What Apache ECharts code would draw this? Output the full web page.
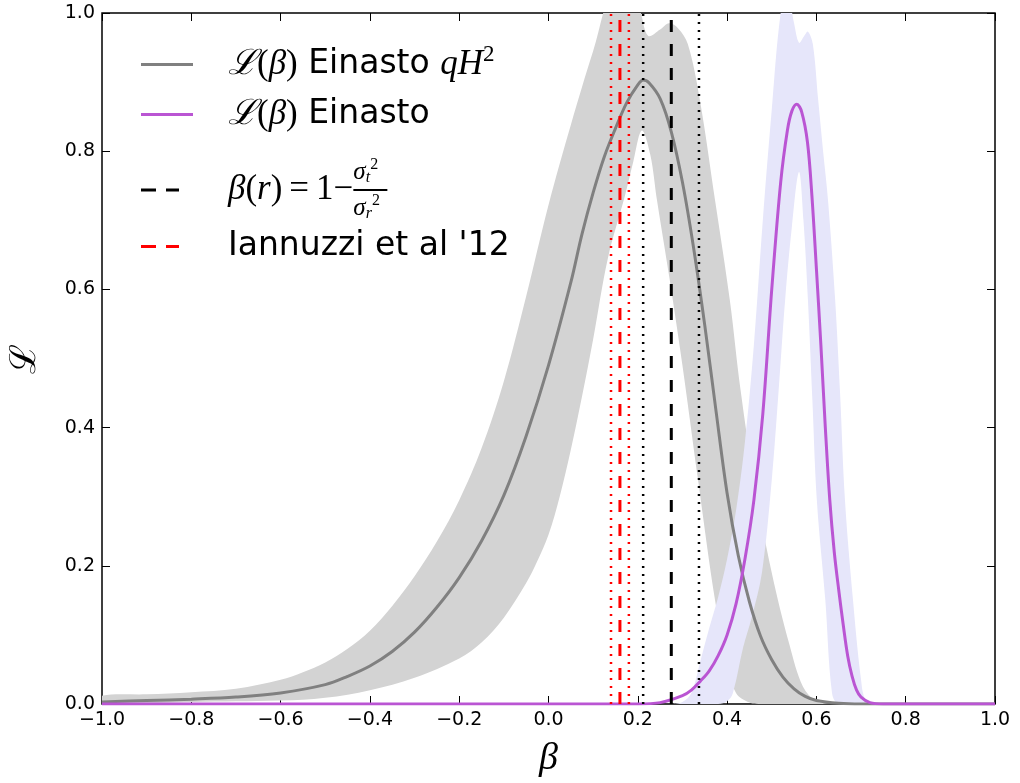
<!DOCTYPE html>
<html>
<head>
<meta charset="utf-8">
<script src="https://cdn.jsdelivr.net/npm/echarts@6/dist/echarts.min.js"></script>
<style>
  html, body { margin: 0; padding: 0; background: #fff; }
  #chart { width: 1020px; height: 783px; }
</style>
</head>
<body>
<div id="chart"></div>
<script>
// Likelihood of the anisotropy parameter beta, Einasto qH^2 fit (gray)
const grayBeta = [-1.0, -0.9, -0.8, -0.7, -0.6, -0.5, -0.45, -0.4, -0.35, -0.3, -0.25, -0.2, -0.15, -0.1, -0.05,
  0.0, 0.05, 0.075, 0.1, 0.125, 0.15, 0.175, 0.2, 0.212, 0.225, 0.25, 0.275, 0.3, 0.325, 0.35, 0.375, 0.4,
  0.425, 0.45, 0.475, 0.5, 0.525, 0.55, 0.575, 0.6, 0.65, 0.7, 0.8, 0.9, 1.0];
const grayLike = [0.003, 0.005, 0.007, 0.010, 0.016, 0.028, 0.040, 0.055, 0.076, 0.104, 0.140, 0.183, 0.236, 0.302, 0.388,
  0.490, 0.610, 0.680, 0.740, 0.792, 0.833, 0.870, 0.896, 0.903, 0.899, 0.876, 0.828, 0.755, 0.660, 0.548, 0.425, 0.305,
  0.215, 0.148, 0.098, 0.064, 0.039, 0.022, 0.011, 0.005, 0.001, 0, 0, 0, 0];

// Upper and lower edges of the gray uncertainty band
const grayHighBeta = [-1.0, -0.9, -0.8, -0.7, -0.6, -0.55, -0.5, -0.45, -0.4, -0.35, -0.3, -0.25, -0.2, -0.15, -0.1, -0.05,
  0.0, 0.05, 0.1, 0.15, 0.2, 0.223, 0.25, 0.27, 0.29, 0.312, 0.339, 0.373, 0.406, 0.43, 0.46, 0.5, 0.54, 0.57, 0.6, 0.63];
const grayHigh = [0.012, 0.014, 0.017, 0.022, 0.035, 0.046, 0.060, 0.080, 0.106, 0.142, 0.185, 0.235, 0.295, 0.370, 0.467, 0.590,
  0.722, 0.838, 0.945, 1.040, 1.010, 0.967, 0.976, 0.985, 0.978, 0.955, 0.874, 0.729, 0.585, 0.455, 0.325, 0.190, 0.085, 0.025, 0.004, 0];
const grayLowBeta = [-1.0, -0.8, -0.6, -0.5, -0.4, -0.3, -0.2, -0.15, -0.1, -0.05, -0.025, 0.0, 0.025, 0.05, 0.075, 0.1,
  0.133, 0.171, 0.19, 0.209, 0.228, 0.243, 0.27, 0.3, 0.335, 0.373, 0.4, 0.42, 0.45, 0.47];
const grayLow = [0.001, 0.003, 0.005, 0.009, 0.020, 0.038, 0.066, 0.089, 0.125, 0.175, 0.207, 0.245, 0.300, 0.368, 0.445, 0.528,
  0.645, 0.735, 0.785, 0.830, 0.795, 0.729, 0.620, 0.490, 0.324, 0.150, 0.060, 0.016, 0.002, 0];

// Likelihood of beta, plain Einasto fit (purple)
const purpleBeta = [-1.0, 0.2, 0.25, 0.3, 0.32, 0.34, 0.36, 0.38, 0.4, 0.42, 0.44, 0.46, 0.48, 0.5, 0.52, 0.535,
  0.545, 0.556, 0.567, 0.58, 0.59, 0.6, 0.61, 0.62, 0.63, 0.64, 0.65, 0.66, 0.67, 0.68, 0.69, 0.7, 0.72, 0.75, 0.8, 1.0];
const purpleLike = [0, 0, 0.002, 0.012, 0.020, 0.033, 0.048, 0.070, 0.100, 0.145, 0.210, 0.295, 0.420, 0.600, 0.755, 0.830,
  0.858, 0.868, 0.857, 0.813, 0.735, 0.630, 0.520, 0.400, 0.295, 0.220, 0.165, 0.115, 0.070, 0.040, 0.020, 0.010, 0.002, 0, 0, 0];

// Upper and lower edges of the lavender uncertainty band
const purpleHighBeta = [0.28, 0.3, 0.32, 0.34, 0.36, 0.38, 0.4, 0.42, 0.44, 0.46, 0.48, 0.5, 0.52, 0.535, 0.55,
  0.561, 0.572, 0.581, 0.592, 0.604, 0.615, 0.626, 0.642, 0.653, 0.664, 0.682, 0.7, 0.71, 0.73];
const purpleHigh = [0, 0.003, 0.016, 0.062, 0.110, 0.155, 0.210, 0.280, 0.380, 0.520, 0.700, 0.860, 1.000, 1.030, 0.985,
  0.957, 0.966, 0.973, 0.955, 0.874, 0.800, 0.729, 0.585, 0.450, 0.295, 0.150, 0.035, 0.006, 0];
const purpleLowBeta = [0.38, 0.4, 0.413, 0.436, 0.455, 0.478, 0.5, 0.515, 0.53, 0.545, 0.561, 0.571, 0.581, 0.591,
  0.601, 0.62, 0.635, 0.65];
const purpleLow = [0, 0.004, 0.016, 0.082, 0.125, 0.190, 0.324, 0.450, 0.585, 0.690, 0.770, 0.700, 0.585, 0.440,
  0.295, 0.150, 0.016, 0];

// Reference values of beta with their ranges
const iannuzziBeta = 0.16;
const iannuzziRange = [0.14, 0.18];
const profileBeta = 0.275;
const profileRange = [0.212, 0.337];

const xTickLabels = ['\u22121.0', '\u22120.8', '\u22120.6', '\u22120.4', '\u22120.2', '0.0', '0.2', '0.4', '0.6', '0.8', '1.0'];
const yTickLabels = ['0.0', '0.2', '0.4', '0.6', '0.8', '1.0'];

const mathFont = "'Liberation Serif', 'DejaVu Serif', serif";
const sansFont = "'DejaVu Sans', sans-serif";

const pairs = (xs, ys) => xs.map((x, i) => [x, ys[i]]);
const vline = b => [[b, 0], [b, 1]];

const measure = document.createElement('canvas').getContext('2d');
const textWidth = (s, font) => { measure.font = font; return measure.measureText(s).width; };

const SMOOTH = 0.35;

// Filled region between an upper and a lower curve, placed through the cartesian axes
function bandSeries(name, hiX, hiY, loX, loY, color) {
  return {
    name: name, type: 'custom', coordinateSystem: 'cartesian2d', silent: true, clip: true,
    data: pairs(hiX, hiY), encode: { x: 0, y: 1 },
    renderItem: (params, api) => {
      if (params.dataIndex !== 0) return null;
      const pts = pairs(hiX, hiY).concat(pairs(loX, loY).reverse()).map(p => api.coord(p));
      const cs = params.coordSys;
      return {
        type: 'polygon', shape: { points: pts, smooth: 0.35 }, style: { fill: color },
        clipPath: { type: 'rect', shape: { x: cs.x, y: cs.y, width: cs.width, height: cs.height } }
      };
    }
  };
}

function vlineSeries(name, b, color, width, dash) {
  return { name: name, type: 'line', data: vline(b), symbol: 'none', silent: true,
    itemStyle: { color: color }, lineStyle: { color: color, width: width, type: dash, cap: 'butt' } };
}

const DASHED = [12, 12];
const DOTTED = [2, 6];

const mathSize = 35;
const italicMath = 'italic ' + mathSize + 'px ' + mathFont;
const uprightMath = mathSize + 'px ' + mathFont;
const lhsWidth = textWidth('\u03b2', italicMath) + textWidth('(', uprightMath) +
  textWidth('r', italicMath) + textWidth(')\u2009=\u20091\u2212', uprightMath);

const rich = {
  m: { fontFamily: mathFont, fontStyle: 'italic', fontSize: mathSize, lineHeight: 40, color: '#000' },
  p: { fontFamily: mathFont, fontSize: mathSize, lineHeight: 40, color: '#000' },
  s: { fontFamily: sansFont, fontSize: 33, lineHeight: 40, color: '#000' },
  sup: { fontFamily: mathFont, fontSize: 23, lineHeight: 40, padding: [0, 0, 20, 0], color: '#000' },
  // fraction pieces
  fm: { fontFamily: mathFont, fontStyle: 'italic', fontSize: mathSize, lineHeight: 12, color: '#000' },
  fp: { fontFamily: mathFont, fontSize: mathSize, lineHeight: 12, color: '#000' },
  bar: { width: 34, height: 2, lineHeight: 12, backgroundColor: '#000', fontSize: 2 },
  pad: { width: lhsWidth, lineHeight: 24, fontSize: 10 },
  num: { fontFamily: mathFont, fontStyle: 'italic', fontSize: 25, lineHeight: 24, color: '#000' },
  nsup: { fontFamily: mathFont, fontSize: 16, lineHeight: 24, padding: [0, 0, 14, 0], color: '#000' },
  nsub: { fontFamily: mathFont, fontStyle: 'italic', fontSize: 16, lineHeight: 24, padding: [12, 0, 0, 0], color: '#000' }
};

const legendLabels = {
  'Einasto qH2': '{m|\u2112}{p|(}{m|\u03b2}{p|)}{s| Einasto }{m|qH}{sup|2}',
  'Einasto': '{m|\u2112}{p|(}{m|\u03b2}{p|)}{s| Einasto}',
  'beta profile': '{pad| }{num|\u03c3}{nsub|t}{nsup|2}\n' +
    '{fm|\u03b2}{fp|(}{fm|r}{fp|)\u2009=\u20091\u2212}{bar| }\n' +
    '{pad| }{num|\u03c3}{nsub|r}{nsup|2}',
  'Iannuzzi': '{s|Iannuzzi et al \'12}'
};

const SOLID_ICON = 'path://M0,0H52V3H0Z';
const DASH_ICON = 'path://M0,0H15V3H0Z M25,0H38V3H25Z';

function legendFor(name, top, dashed) {
  const w = dashed ? 38 : 52;
  return {
    data: [name], orient: 'vertical', left: 141, top: top, padding: 0,
    itemWidth: w, itemHeight: 3, selectedMode: false, symbolKeepAspect: false,
    icon: dashed ? DASH_ICON : SOLID_ICON,
    formatter: n => legendLabels[n],
    textStyle: { rich: rich, padding: [0, 0, 0, 228 - 141 - w - 5] }
  };
}

const chart = echarts.init(document.getElementById('chart'), null, { renderer: 'canvas' });

const axisText = { fontFamily: sansFont, fontSize: 19, color: '#000' };
const tickStyle = { inside: true, length: 8, lineStyle: { color: '#000', width: 1 } };
const hiddenLine = { show: false, onZero: false };

chart.setOption({
  animation: false,
  backgroundColor: '#fff',
  grid: { left: 102, right: 25, top: 13, bottom: 79, show: true, borderColor: '#000', borderWidth: 1.5,
    backgroundColor: 'transparent' },
  legend: [
    legendFor('Einasto qH2', 43, false),
    legendFor('Einasto', 97, false),
    legendFor('beta profile', 157, true),
    legendFor('Iannuzzi', 230, true)
  ],
  xAxis: [
    { type: 'value', min: -1, max: 1, interval: 0.2, position: 'bottom',
      name: '\u03b2', nameLocation: 'middle', nameGap: 36,
      nameTextStyle: { fontFamily: mathFont, fontStyle: 'italic', fontSize: 38, color: '#000' },
      axisLine: hiddenLine, splitLine: { show: false }, axisTick: tickStyle,
      axisLabel: Object.assign({ margin: 7, formatter: (v, i) => xTickLabels[i] }, axisText) },
    { type: 'value', min: -1, max: 1, interval: 0.2, position: 'top',
      axisLine: hiddenLine, splitLine: { show: false }, axisLabel: { show: false }, axisTick: tickStyle }
  ],
  yAxis: [
    { type: 'value', min: 0, max: 1, interval: 0.2, position: 'left',
      name: '\u2112', nameLocation: 'middle', nameGap: 58, nameRotate: 90,
      nameTextStyle: { fontFamily: "'DejaVu Serif', serif", fontSize: 36, color: '#000' },
      axisLine: hiddenLine, splitLine: { show: false }, axisTick: tickStyle,
      axisLabel: Object.assign({ margin: 7, formatter: (v, i) => yTickLabels[i] }, axisText) },
    { type: 'value', min: 0, max: 1, interval: 0.2, position: 'right',
      axisLine: hiddenLine, splitLine: { show: false }, axisLabel: { show: false }, axisTick: tickStyle }
  ],
  series: [
    bandSeries('qH2 band', grayHighBeta, grayHigh, grayLowBeta, grayLow, '#d3d3d3'),
    bandSeries('plain band', purpleHighBeta, purpleHigh, purpleLowBeta, purpleLow, '#e6e6fa'),
    { name: 'Einasto qH2', type: 'line', data: pairs(grayBeta, grayLike), smooth: SMOOTH, symbol: 'none',
      lineStyle: { color: '#808080', width: 3 }, itemStyle: { color: '#808080' } },
    { name: 'Einasto', type: 'line', data: pairs(purpleBeta, purpleLike), smooth: SMOOTH, symbol: 'none',
      lineStyle: { color: '#ba55d3', width: 3 }, itemStyle: { color: '#ba55d3' } },
    vlineSeries('Iannuzzi low', iannuzziRange[0], '#ff0000', 2.5, DOTTED),
    vlineSeries('Iannuzzi high', iannuzziRange[1], '#ff0000', 2.5, DOTTED),
    vlineSeries('Iannuzzi', iannuzziBeta, '#ff0000', 3, DASHED),
    vlineSeries('profile low', profileRange[0], '#000', 2.5, DOTTED),
    vlineSeries('profile high', profileRange[1], '#000', 2.5, DOTTED),
    vlineSeries('beta profile', profileBeta, '#000', 3, DASHED)
  ]
});
</script>
</body>
</html>
